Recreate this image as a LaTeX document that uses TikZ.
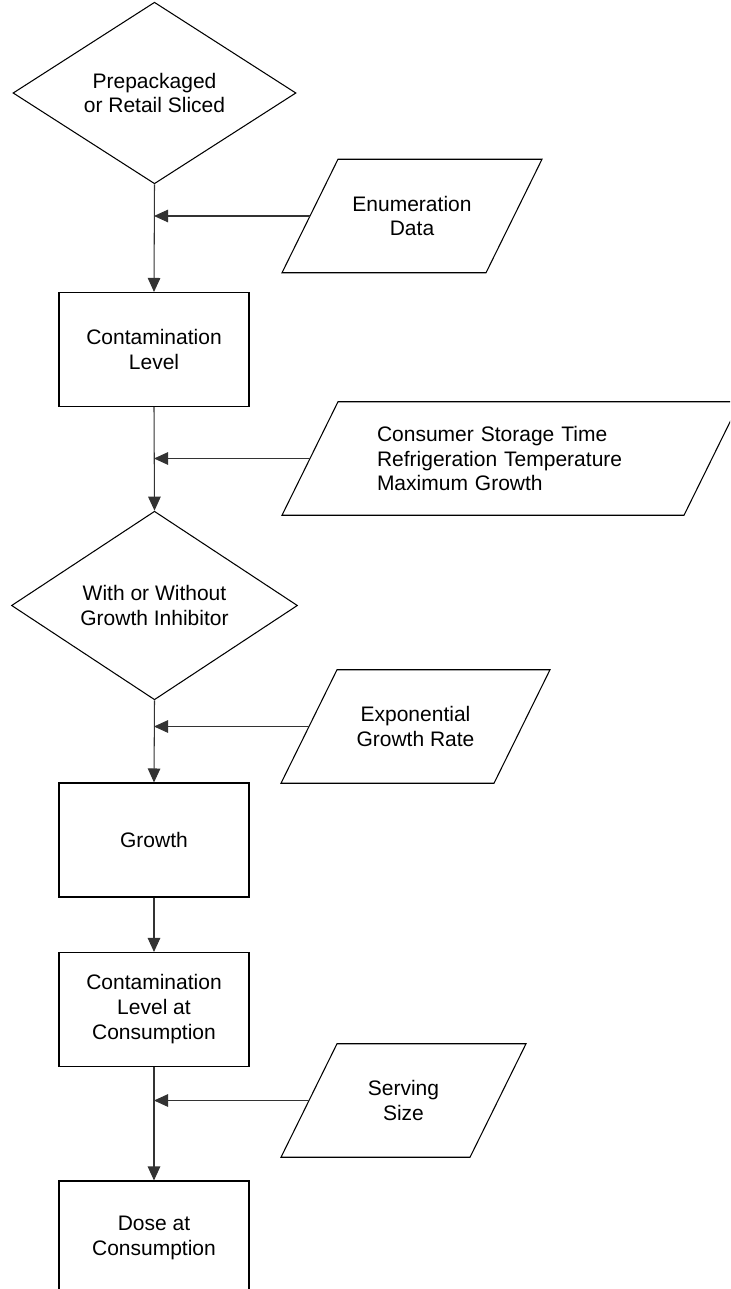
\documentclass[tikz,border=0pt]{standalone}
\usepackage{fontspec}
\setmainfont{Liberation Sans}
\usetikzlibrary{arrows.meta, shapes.geometric}

\tikzset{
    shapeline/.style={line width=0.6pt, black},
    decision/.style={diamond, draw, shapeline, inner sep=0pt, align=center},
    process/.style={rectangle, draw, shapeline, minimum width=3.8cm, minimum height=2.28cm, inner sep=0pt, align=center},
    datain/.style={rectangle, minimum width=#1, minimum height=2.27cm, inner sep=0pt, outer sep=0pt, align=center},
    feed/.style={-{Triangle[length=0.28cm, width=0.25cm]}, line width=0.6pt, black!80},
}
\newcommand{\tikzdataslant}[1]{%
    \draw[shapeline] ([xshift=0.56cm]#1.north west) -- ([xshift=0.56cm]#1.north east)
        -- ([xshift=-0.56cm]#1.south east) -- ([xshift=-0.56cm]#1.south west) -- cycle;
}

\begin{document}
\begin{tikzpicture}[font=\fontsize{11.95}{14.2}\selectfont]
            \useasboundingbox (0, 0) rectangle (14.6, -25.78);
            \clip (0, 0) rectangle (14.6, -25.78);

            \node[decision, minimum width=5.66cm, minimum height=3.40cm] (prepack) at (3.09, -1.86) {Prepackaged\\or Retail Sliced};
            \node[process] (contam) at (3.08, -6.99) {Contamination\\Level};
            \node[decision, minimum width=5.72cm, minimum height=3.46cm] (inhibit) at (3.09, -12.11) {With or Without\\Growth Inhibitor};
            \node[process] (growth) at (3.08, -16.80) {Growth};
            \node[process] (conslevel) at (3.08, -20.19) {Contamination\\Level at\\Consumption};
            \node[process] (dose) at (3.08, -24.76) {Dose at\\Consumption};

            \node[datain=4.08cm] (enum) at (8.24, -4.32) {Enumeration\\Data};
            \node[datain=8.04cm, text width=5.36cm, inner xsep=1.34cm, align=left] (storage) at (10.22, -9.17) {Consumer Storage Time\\Refrigeration Temperature\\Maximum Growth};
            \node[datain=4.26cm] (expo) at (8.31, -14.53) {Exponential\\Growth Rate};
            \node[datain=3.78cm] (serving) at (8.07, -22.01) {Serving\\Size};

            \tikzdataslant{enum};
            \tikzdataslant{storage};
            \tikzdataslant{expo};
            \tikzdataslant{serving};

            \draw[feed] (prepack.south) -- (contam.north);
            \draw[feed] (contam.south) -- (inhibit.north);
            \draw[feed] (inhibit.south) -- (growth.north);
            \draw[feed] (growth.south) -- (conslevel.north);
            \draw[feed] (conslevel.south) -- (dose.north);

            \draw[feed] (enum.west) -- (enum.west -| contam.north);
            \draw[feed] (storage.west) -- (storage.west -| contam.south);
            \draw[feed] (expo.west) -- (expo.west -| growth.north);
            \draw[feed] (serving.west) -- (serving.west -| dose.north);
\end{tikzpicture}
\end{document}
